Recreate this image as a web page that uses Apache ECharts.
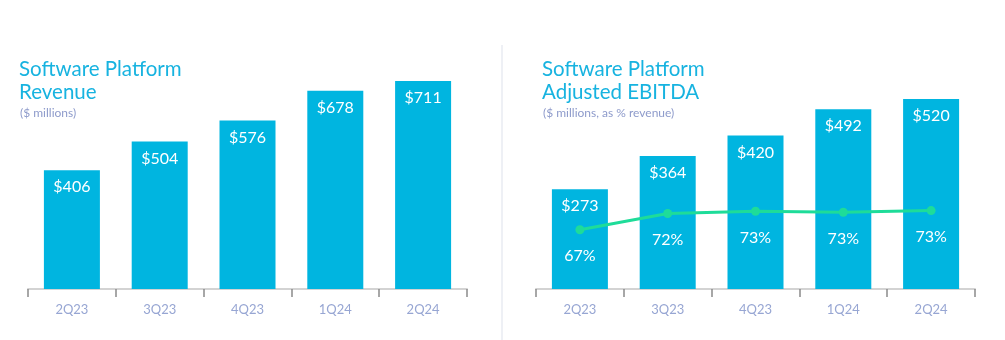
<!DOCTYPE html>
<html>
<head>
<meta charset="utf-8">
<script src="https://cdn.jsdelivr.net/npm/echarts@6/dist/echarts.min.js"></script>
<style>
html,body{margin:0;padding:0;background:#fff;}
#chart{width:1005px;height:340px;}
</style>
</head>
<body>
<div id="chart"></div>
<script>
var categories = ['2Q23', '3Q23', '4Q23', '1Q24', '2Q24'];
var revenue = [406, 504, 576, 678, 711];
var ebitda = [273, 364, 420, 492, 520];
var marginPct = [67.2, 72.2, 72.9, 72.6, 73.1];

var FONT = 'Lato, "Noto Sans", sans-serif';
var BAR = '#00B5E0';
var TITLE = '#17B3E0';
var SUB = '#8E9BCB';
var AXISLBL = '#97A6D3';
var GREEN = '#1EDC99';

function xAxisCfg(gi) {
  return {
    type: 'category', gridIndex: gi, data: categories,
    axisLine: {lineStyle: {color: '#D3D3D3', width: 2}},
    axisTick: {show: true, length: 8, lineStyle: {color: '#8A8A8A', width: 1.5}},
    axisLabel: {color: AXISLBL, fontSize: 13, fontFamily: FONT, margin: 14}
  };
}

var chart = echarts.init(document.getElementById('chart'), null, {renderer: 'canvas'});
chart.setOption({
  animation: false,
  backgroundColor: '#fff',
  title: [
    {text: 'Software Platform\nRevenue', left: 19, top: 58, padding: 0,
     textStyle: {color: TITLE, fontSize: 20.5, fontWeight: 'normal', fontFamily: FONT, lineHeight: 23}},
    {text: '($ millions)', left: 20, top: 107, padding: 0,
     textStyle: {color: SUB, fontSize: 12, fontWeight: 'normal', fontFamily: FONT}},
    {text: 'Software Platform\nAdjusted EBITDA', left: 542, top: 58, padding: 0,
     textStyle: {color: TITLE, fontSize: 20.5, fontWeight: 'normal', fontFamily: FONT, lineHeight: 23}},
    {text: '($ millions, as % revenue)', left: 543, top: 107, padding: 0,
     textStyle: {color: SUB, fontSize: 12, fontWeight: 'normal', fontFamily: FONT}}
  ],
  graphic: [
    {type: 'line', shape: {x1: 502, y1: 45, x2: 502, y2: 340},
     style: {stroke: '#EEF0F5', lineWidth: 2}}
  ],
  grid: [
    {left: 28, right: 538, top: 40.4, bottom: 51},
    {left: 536, right: 30, top: 40.4, bottom: 51}
  ],
  xAxis: [xAxisCfg(0), xAxisCfg(1)],
  yAxis: [
    {type: 'value', gridIndex: 0, min: 0, max: 850, show: false},
    {type: 'value', gridIndex: 1, min: 0, max: 680, show: false},
    {type: 'value', gridIndex: 1, min: 49, max: 125.4, show: false}
  ],
  series: [
    {type: 'bar', xAxisIndex: 0, yAxisIndex: 0, data: revenue, barWidth: 56,
     itemStyle: {color: BAR},
     label: {show: true, position: 'insideTop', distance: 9, color: '#fff', fontSize: 16,
             fontFamily: FONT, formatter: function (p) { return '$' + p.value; }}},
    {type: 'bar', xAxisIndex: 1, yAxisIndex: 1, data: ebitda, barWidth: 56,
     itemStyle: {color: BAR},
     label: {show: true, position: 'insideTop', distance: 9, color: '#fff', fontSize: 16,
             fontFamily: FONT, formatter: function (p) { return '$' + p.value; }}},
    {type: 'line', xAxisIndex: 1, yAxisIndex: 2, data: marginPct, z: 5,
     symbol: 'circle', symbolSize: 9,
     lineStyle: {color: GREEN, width: 3}, itemStyle: {color: GREEN},
     label: {show: true, position: 'bottom', distance: 14, color: '#fff', fontSize: 16,
             fontFamily: FONT, formatter: function (p) { return Math.round(p.value) + '%'; }}}
  ]
});
</script>
</body>
</html>
